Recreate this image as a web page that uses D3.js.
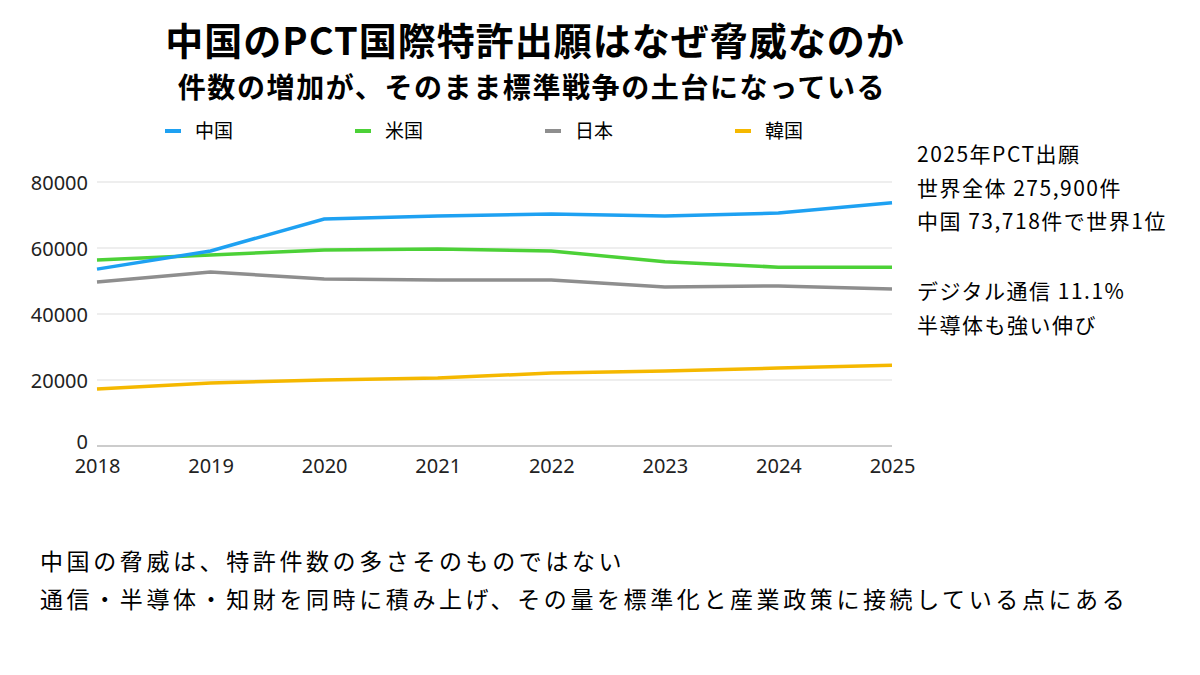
<!DOCTYPE html>
<html><head><meta charset="utf-8">
<script src="https://cdn.jsdelivr.net/npm/d3@7"></script>
<style>
body{margin:0;background:#fff;font-family:"Noto Sans CJK JP","Noto Sans",sans-serif;}
.axis text{font-size:20px;fill:#222;font-family:"Noto Sans","Noto Sans CJK JP",sans-serif;}
.axis path,.axis line{stroke:none;}
</style></head><body><div id="chart"></div>
<script>
const years = [2018, 2019, 2020, 2021, 2022, 2023, 2024, 2025];
const china = [53600, 59100, 68800, 69700, 70300, 69700, 70600, 73718];
const usa = [56400, 57900, 59400, 59700, 59100, 55800, 54200, 54200];
const japan = [49700, 52700, 50600, 50300, 50300, 48200, 48500, 47600];
const korea = [17300, 19100, 20000, 20600, 22100, 22700, 23600, 24500];
const seriesNames = ['中国', '米国', '日本', '韓国'];
const colors = ['#1ea1f2', '#4cd137', '#8e8e8e', '#f5b800'];
const yTicks = [0, 20000, 40000, 60000, 80000];

const W = 1200, H = 675;
const svg = d3.select('#chart').append('svg').attr('width', W).attr('height', H);

svg.append('text').attr('x', 535).attr('y', 55).attr('text-anchor', 'middle')
  .style('font-size', '38px').style('font-weight', 'bold').style('letter-spacing', '1px')
  .text('中国のPCT国際特許出願はなぜ脅威なのか');
svg.append('text').attr('x', 532).attr('y', 98).attr('text-anchor', 'middle')
  .style('font-size', '28px').style('font-weight', 'bold').style('letter-spacing', '1.6px')
  .text('件数の増加が、そのまま標準戦争の土台になっている');

const x = d3.scaleLinear().domain([2018, 2025]).range([97, 892]);
const y = d3.scaleLinear().domain([0, 80000]).range([446, 182]);

svg.append('g').selectAll('line').data(yTicks).join('line')
  .attr('x1', 97).attr('x2', 892).attr('y1', d => y(d)).attr('y2', d => y(d))
  .attr('stroke', d => d === 0 ? '#999' : '#ddd').attr('stroke-width', 1);

svg.append('g').attr('class', 'axis').attr('transform', 'translate(88,0)')
  .call(d3.axisLeft(y).tickValues(yTicks).tickFormat(d3.format('d')).tickSize(0).tickPadding(0))
  .selectAll('text').attr('dy', d => d === 0 ? '0.1em' : '0.35em');
svg.append('g').attr('class', 'axis').attr('transform', 'translate(0,457)')
  .call(d3.axisBottom(x).tickValues(years).tickFormat(d3.format('d')).tickSize(0).tickPadding(2));

const data = [china, usa, japan, korea];
const line = d3.line().x((d, i) => x(years[i])).y(d => y(d));
svg.append('g').selectAll('path').data(data.slice().reverse()).join('path')
  .attr('d', line).attr('fill', 'none').attr('stroke-width', 3.5)
  .attr('stroke', (d, i) => colors[3 - i]);

const lg = svg.append('g').selectAll('g').data(seriesNames).join('g')
  .attr('transform', (d, i) => `translate(${165 + i * 190},131)`);
lg.append('line').attr('x1', 0).attr('x2', 16).attr('stroke', (d, i) => colors[i]).attr('stroke-width', 4);
lg.append('text').attr('x', 30).attr('dy', '0.35em').style('font-size', '19px').text(d => d);

const notes = ['2025年PCT出願', '世界全体 275,900件', '中国 73,718件で世界1位', '', 'デジタル通信 11.1%', '半導体も強い伸び'];
svg.append('g').selectAll('text').data(notes).join('text')
  .attr('x', 917).attr('y', (d, i) => 155 + i * 33.5 + (i >= 4 ? 3 : 0))
  .attr('dy', '0.35em').style('font-size', '21px').style('letter-spacing', '1.5px').text(d => d);

const foot = ['中国の脅威は、特許件数の多さそのものではない', '通信・半導体・知財を同時に積み上げ、その量を標準化と産業政策に接続している点にある'];
svg.append('g').selectAll('text').data(foot).join('text')
  .attr('x', 40).attr('y', (d, i) => 562 + i * 38).attr('dy', '0.35em')
  .style('font-size', '23px').style('letter-spacing', '3.6px').text(d => d);
</script></body></html>
